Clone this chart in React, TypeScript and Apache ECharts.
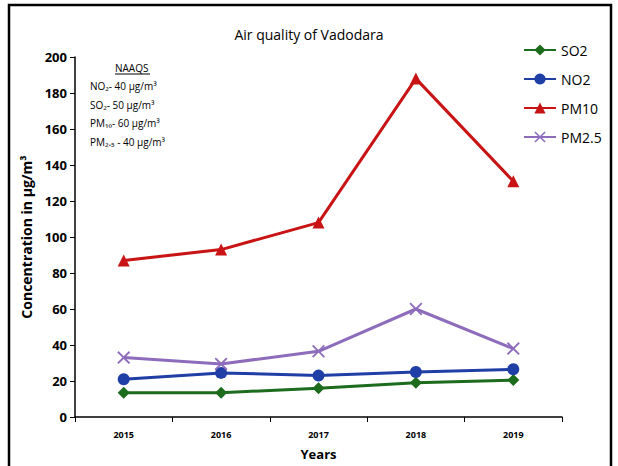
import React, { useEffect, useRef } from "react";
import * as echarts from "echarts";

const years = ["2015", "2016", "2017", "2018", "2019"];
const so2 = [13.5, 13.5, 16, 19, 20.5];
const no2 = [21, 24.5, 23, 25, 26.5];
const pm10 = [87, 93, 108, 188, 131];
const pm25 = [33, 29.5, 36.5, 60, 38];
const naaqsLines = ["NO₂- 40 µg/m³", "SO₂- 50 µg/m³", "PM₁₀- 60 µg/m³", "PM₂.₅ - 40 µg/m³"];

const FONT = "'Liberation Sans Narrow', 'Open Sans', 'Liberation Sans', Arial, sans-serif";
const XSYM = "path://M0,1 L1,0 L5,4 L9,0 L10,1 L6,5 L10,9 L9,10 L5,6 L1,10 L0,9 L4,5 Z";

export default function App() {
  const ref = useRef<HTMLDivElement>(null);
  useEffect(() => {
    const chart = echarts.init(ref.current!, null, { renderer: "svg" });
    const mk = (name: string, data: number[], color: string, symbol: string, size: number) => ({
      name,
      type: "line",
      data,
      symbol,
      symbolSize: size,
      lineStyle: { color, width: 3 },
      itemStyle: { color },
      z: 3,
    });
    chart.setOption({
      animation: false,
      textStyle: { fontFamily: FONT },
      title: {
        text: "Air quality of Vadodara",
        left: "center",
        top: 22,
        textStyle: { fontSize: 14, fontWeight: "normal", color: "#000", fontFamily: FONT },
      },
      legend: {
        orient: "vertical",
        left: 518,
        top: 38,
        itemWidth: 32,
        itemHeight: 14,
        itemGap: 15,
        textStyle: { fontSize: 14, color: "#000", fontFamily: FONT },
        data: ["SO2", "NO2", "PM10", "PM2.5"],
      },
      grid: { left: 75, right: 56, top: 57, bottom: 49, containLabel: false, outerBoundsMode: "none" },
      xAxis: {
        type: "category",
        data: years,
        boundaryGap: true,
        name: "Years",
        nameLocation: "middle",
        nameGap: 29,
        nameTextStyle: { fontSize: 13, fontWeight: "bold", color: "#000", fontFamily: FONT, lineHeight: 16 },
        axisLine: { lineStyle: { color: "#000", width: 1.5 } },
        axisTick: { show: true, length: 5, lineStyle: { color: "#000" } },
        axisLabel: { fontSize: 9, fontWeight: "bold", color: "#000", margin: 13, fontFamily: FONT },
      },
      yAxis: {
        type: "value",
        min: 0,
        max: 200,
        interval: 20,
        name: "Concentration in µg/m³",
        nameLocation: "middle",
        nameGap: 41,
        nameTextStyle: { fontSize: 14, fontWeight: "bold", color: "#000", fontFamily: FONT },
        axisLine: { show: true, lineStyle: { color: "#000", width: 1.5 } },
        axisTick: { show: true, length: 5, lineStyle: { color: "#000" } },
        splitLine: { show: false },
        axisLabel: { fontSize: 13, fontWeight: "bold", color: "#000", margin: 8, fontFamily: FONT },
      },
      graphic: [
        {
          type: "rect",
          shape: { x: 9, y: 5, width: 602, height: 480 },
          style: { fill: "none", stroke: "#000", lineWidth: 2.5 },
          silent: true,
        },
        {
          type: "text",
          x: 115,
          y: 63,
          style: { text: "NAAQS", fontSize: 10, fill: "#000", fontFamily: FONT },
        },
        {
          type: "line",
          shape: { x1: 115, y1: 74, x2: 150, y2: 74 },
          style: { stroke: "#000", lineWidth: 1 },
        },
        ...naaqsLines.map((t, i) => ({
          type: "text",
          x: 90,
          y: 81 + i * 18.5,
          style: { text: t, fontSize: 10, fill: "#000", fontFamily: FONT },
        })),
      ],
      series: [
        mk("SO2", so2, "#1d6b1d", "diamond", 12),
        mk("NO2", no2, "#1f3fa6", "circle", 12),
        mk("PM10", pm10, "#c81414", "triangle", 12),
        mk("PM2.5", pm25, "#8e6cbc", XSYM, 13),
      ],
    });
    return () => chart.dispose();
  }, []);
  return (
    <div
      ref={ref}
      style={{ position: "absolute", left: 0, top: 0, width: 618, height: 466, background: "#fff" }}
    />
  );
}
